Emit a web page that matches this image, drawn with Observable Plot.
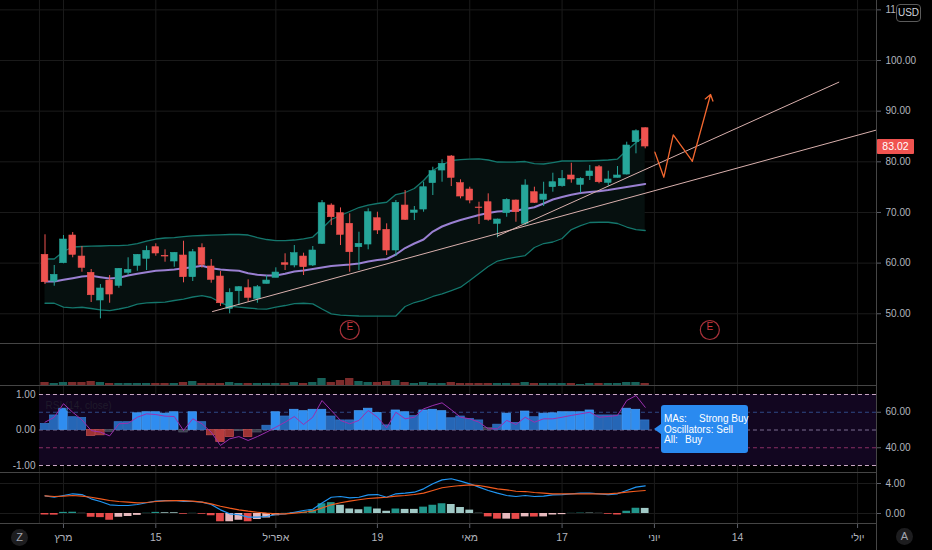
<!DOCTYPE html>
<html><head><meta charset="utf-8">
<script src="https://cdn.jsdelivr.net/npm/d3@7"></script>
<script src="https://cdn.jsdelivr.net/npm/@observablehq/plot@0.6"></script>
<style>
html,body{margin:0;padding:0;background:#000;}
#chart{position:relative;width:932px;height:550px;background:#000;overflow:hidden;font-family:"Liberation Sans",Arial,sans-serif;}
#chart svg{position:absolute;left:0;}
.btn{position:absolute;width:17px;height:17px;border-radius:50%;background:#1d1d1f;color:#a3a6af;font-size:11px;line-height:17px;text-align:center;}
</style></head><body><div id="chart"></div>
<script>
// ---------- data ----------
const open  = [61.64,56.36,59.98,65.45,61.30,58.09,52.62,56.56,55.52,58.09,59.47,60.85,63.14,61.40,60.32,61.50,57.22,62.95,59.33,57.35,50.98,54.45,55.04,52.95,55.90,57.10,59.98,59.53,61.30,59.53,63.81,71.37,69.85,67.76,63.14,63.67,68.86,66.57,62.49,71.37,69.93,70.58,75.78,78.28,81.05,75.78,74.53,70.98,72.02,67.76,69.85,72.36,67.76,74.00,72.50,74.99,75.18,77.30,75.46,77.16,78.93,75.85,76.84,77.49,83.87,86.63];
const high  = [65.59,59.53,65.45,66.04,63.28,58.74,55.77,57.55,58.93,61.05,61.70,63.34,63.81,62.63,62.10,64.32,62.69,63.81,60.71,58.34,54.93,55.38,56.70,55.58,57.55,59.07,61.84,63.47,61.96,63.28,72.36,71.71,70.90,69.73,66.10,70.72,70.05,67.76,72.36,74.33,71.18,75.97,78.93,80.40,81.24,76.45,74.99,72.02,73.68,68.70,72.70,72.46,76.45,74.99,75.97,77.75,78.28,79.72,76.84,79.27,79.27,78.15,79.07,83.87,86.32,86.71];
const low   = [55.78,55.44,59.86,61.05,58.20,52.22,49.00,52.08,55.04,57.55,58.40,58.54,61.36,60.18,59.19,56.11,56.37,59.00,56.03,51.43,49.99,51.63,52.28,52.08,55.87,57.10,58.54,59.07,57.55,59.33,63.67,67.42,63.47,58.20,58.54,62.63,65.65,61.50,61.30,68.41,68.41,70.05,73.35,75.97,75.12,72.69,71.71,67.62,68.27,65.00,69.06,68.07,67.42,71.77,71.18,74.00,74.99,75.78,73.80,76.31,75.66,75.18,76.80,77.40,81.58,82.57];
const close = [56.23,57.69,64.66,61.64,59.07,53.66,54.99,53.80,58.88,58.68,61.64,62.43,61.90,61.30,62.03,57.22,62.15,59.67,56.70,52.08,54.14,55.24,53.15,55.24,56.56,58.14,59.67,61.96,59.20,62.49,71.83,69.06,65.59,62.15,63.81,70.05,66.44,62.49,71.90,68.55,70.39,74.98,78.15,79.60,76.84,73.15,72.36,70.86,68.55,68.61,72.50,70.05,75.32,71.90,73.54,75.97,76.64,76.51,76.64,78.09,75.97,76.51,77.30,83.22,86.04,83.02];
const bbUpper = [60.81,60.81,62.29,63.18,63.28,63.34,63.38,63.44,63.47,63.57,63.87,64.36,64.76,64.96,65.05,65.25,65.39,65.45,65.51,65.59,65.65,65.65,65.55,65.05,64.66,64.46,64.46,64.56,64.80,65.15,66.83,68.61,69.40,70.19,70.98,71.47,71.77,72.02,73.54,73.94,74.73,76.31,78.28,79.37,80.26,80.45,80.55,80.59,80.36,79.96,79.92,79.96,80.06,79.66,79.57,79.86,80.16,80.16,80.16,80.20,80.26,80.36,80.55,82.23,83.81,85.00];
const bbLower = [52.08,52.08,51.33,51.17,51.29,51.04,50.78,50.64,50.94,51.29,51.92,52.16,52.22,52.28,52.62,52.91,53.31,53.60,53.21,52.22,51.53,51.33,51.14,50.98,50.90,51.29,51.63,52.02,52.08,51.96,50.94,49.99,49.75,49.65,49.56,49.52,49.52,49.52,49.56,51.43,52.22,52.71,53.41,53.94,54.59,55.24,56.56,57.95,59.33,60.41,60.85,61.20,61.50,63.08,63.87,64.17,64.86,66.63,67.42,68.02,68.07,68.07,67.82,67.13,66.63,66.44];
const basis = [56.37,56.37,56.70,57.02,57.35,57.49,57.22,56.96,57.10,57.55,57.89,58.20,58.48,58.60,58.74,58.99,59.19,59.47,58.99,58.74,58.60,58.48,58.01,57.69,57.55,57.55,57.89,58.34,58.54,58.83,59.13,59.43,59.59,59.72,59.92,60.32,60.61,60.81,61.70,62.98,63.87,64.66,66.24,67.23,67.92,68.51,69.00,69.50,69.89,70.19,70.29,70.38,70.68,71.04,71.77,72.56,73.05,73.48,73.84,74.04,74.20,74.43,74.73,75.02,75.32,75.62];
const volume = [3,2,3,3,3,4,3,2,2,2,2,2,2,2,2,3,4,2,2,2,3,2,2,2,2,2,2,3,2,3,7,3,5,7,4,3,3,4,5,3,2,3,2,2,3,2,2,2,2,2,2,2,3,2,2,2,2,2,1,2,2,2,2,3,3,2];
const rating = [0.17,0.41,0.6,0.36,0.34,-0.17,-0.15,-0.05,0.22,0.22,0.47,0.5,0.5,0.46,0.5,-0.07,0.5,0.22,-0.15,-0.34,-0.2,-0.03,-0.2,-0.07,0.12,0.5,0.38,0.57,0.53,0.57,0.57,0.38,0.27,0.27,0.53,0.6,0.48,0.13,0.55,0.5,0.39,0.55,0.57,0.53,0.33,0.38,0.31,0.27,0.06,0.15,0.46,0.2,0.52,0.36,0.46,0.47,0.5,0.5,0.5,0.55,0.41,0.41,0.41,0.6,0.57,0.27];
const rsi = [54.4,57.2,64.8,60.0,55.7,49.7,48.8,46.7,53.5,53.8,57.2,59.1,58.7,57.8,57.6,49.7,56.3,53.5,48.8,41.3,45.0,46.3,44.1,46.3,48.8,51.6,54.4,57.6,53.1,57.2,66.6,61.0,55.4,53.5,55.4,61.0,57.2,51.2,60.0,56.3,57.2,61.9,63.8,65.3,61.4,57.2,56.3,54.4,50.7,50.7,55.4,53.1,57.2,54.4,56.3,56.3,57.2,58.2,59.1,60.0,57.2,57.6,58.2,66.6,69.4,62.8];
const macd = [2.36,2.17,2.4,2.63,2.53,1.96,1.6,1.16,1.07,1.07,1.2,1.43,1.64,1.73,1.73,1.6,1.6,1.51,1.2,0.49,-0.04,-0.17,-0.49,-0.49,-0.4,-0.13,-0.04,0.17,0.4,0.57,1.4,2.17,2.27,2.09,2.17,2.49,2.53,2.17,2.63,2.71,2.84,3.29,3.96,4.49,4.63,4.31,3.96,3.51,3.07,2.71,2.4,2.27,2.4,2.27,2.31,2.49,2.53,2.63,2.71,2.71,2.63,2.53,2.63,3.07,3.51,3.69];
const signal = [2.36,2.27,2.31,2.4,2.31,2.17,1.96,1.73,1.6,1.51,1.43,1.47,1.6,1.69,1.73,1.73,1.64,1.51,1.29,0.97,0.71,0.49,0.31,0.17,0.04,-0.04,-0.04,0.04,0.17,0.33,0.73,1.16,1.43,1.64,1.83,2.0,2.09,2.17,2.31,2.4,2.53,2.71,3.07,3.43,3.6,3.73,3.83,3.73,3.51,3.29,3.16,2.97,2.93,2.8,2.71,2.63,2.63,2.63,2.63,2.63,2.63,2.63,2.71,2.84,2.97,3.07];
const hist = [-0.2,-0.22,0.15,0.17,0.02,-0.5,-0.55,-0.9,-0.5,-0.4,-0.25,0.03,0.15,0.1,0.1,-0.1,0.02,-0.1,-0.3,-1.1,-1.1,-0.9,-1.1,-0.8,-0.6,-0.3,0.02,0.1,0.2,0.45,1.3,1.45,1.1,0.6,0.5,0.85,0.6,0.3,0.6,0.55,0.55,0.85,1.1,1.3,1.2,0.8,0.45,0.03,-0.45,-0.75,-0.75,-0.78,-0.45,-0.47,-0.45,-0.2,-0.15,0.02,0.05,0.05,0.02,-0.1,-0.2,0.3,0.7,0.68];
const trendLines = [
  [{i:18.14,p:50.44},{i:90.05,p:86.28}],
  [{i:49.01,p:65.35},{i:85.97,p:95.72}]
];
const zigzag = [{i:66.05,p:81.9},{i:67.02,p:76.96},{i:68.04,p:85.33},{i:70.1,p:80.12},{i:72.08,p:93.29}];
const earnings = [33, 72];
const priceTicks = [50,60,70,80,90,100,110];
const ratingTicks = [-1,0,1];
const rsiTicks = [40,60];
const macdTicks = [0,4];
const timeIdx = [2,12,25,36,46,56,66,75,88];
const timeLabels = ["מרץ","15","אפריל","19","מאי","17","יוני","14","יולי"];
const gridIdx = [-0.6, ...timeIdx];
const rsiLevels = [{v:70,c:"#c9a6c4"},{v:60,c:"#2f4a86"},{v:50,c:"#7d6f92"},{v:40,c:"#8a2f63"},{v:30,c:"#c9a6c4"}];

// ---------- helpers ----------
const idx = d3.range(open.length);
const xDomain = [-4.82, 90.05];
const seriesStart = -0.6;
const FONT = '"Liberation Sans", Arial, sans-serif';
const GRID = "#1b1b1b";
const up = "#26a69a", dn = "#ef5350";
const candleColor = i => close[i] >= open[i] ? up : dn;
const chart = document.getElementById("chart");

function pane(top, height, yDomain, marks, opts = {}) {
  const svg = Plot.plot({
    width: 932, height, marginLeft: 0, marginRight: 56, marginTop: 0, marginBottom: 0,
    x: {domain: xDomain, axis: null},
    y: {domain: yDomain, axis: null},
    style: {background: "transparent", color: "#b2b5be", fontFamily: FONT, fontSize: "10px", overflow: "visible"},
    marks, ...opts
  });
  svg.style.top = top + "px";
  chart.appendChild(svg);
  return svg;
}
const rightAxis = (ticks) => Plot.axisY(ticks, {anchor: "right", tickSize: 4, tickPadding: 5, tickFormat: d => d.toFixed(2), stroke: "#5a5d66", fill: "#b2b5be", fontSize: 10});

// ---------- main price pane ----------
const main = pane(0, 343, [44.13, 111.85], [
  Plot.gridY(priceTicks, {stroke: GRID, strokeOpacity: 1}),
  Plot.gridX(gridIdx, {stroke: GRID, strokeOpacity: 1}),
  Plot.areaY(idx, {x: i => i, y1: i => bbLower[i], y2: i => bbUpper[i], fill: "#06100f"}),
  Plot.line(idx, {x: i => i, y: i => bbUpper[i], stroke: "#14766c", strokeWidth: 1.3}),
  Plot.line(idx, {x: i => i, y: i => bbLower[i], stroke: "#14766c", strokeWidth: 1.3}),
  Plot.line(idx, {x: i => i, y: i => basis[i], stroke: "#9a80d2", strokeWidth: 2}),
  Plot.ruleX(idx, {x: i => i, y1: i => low[i], y2: i => high[i], stroke: candleColor, strokeWidth: 1}),
  Plot.rect(idx, {x1: i => i - 0.36, x2: i => i + 0.36, y1: i => open[i], y2: i => close[i], fill: candleColor, stroke: candleColor, strokeWidth: 0.6}),
  ...trendLines.map(t => Plot.line(t, {x: "i", y: "p", stroke: "#d9b0ad", strokeWidth: 1, clip: true})),
  Plot.line(zigzag.slice(0, 4), {x: "i", y: "p", stroke: "#f2672f", strokeWidth: 1.3}),
  Plot.arrow([{a: zigzag[3], b: zigzag[4]}], {x1: d => d.a.i, y1: d => d.a.p, x2: d => d.b.i, y2: d => d.b.p, stroke: "#f2672f", strokeWidth: 1.3, headLength: 8, headAngle: 70}),
  Plot.dot(earnings, {x: d => d, frameAnchor: "bottom", dy: -13.5, r: 9.5, stroke: "#a8313a", strokeWidth: 1.2, fill: "none"}),
  Plot.text(earnings, {x: d => d, frameAnchor: "bottom", dy: -13.5, text: () => "E", fill: "#c8383f", fontSize: 10}),
  rightAxis(priceTicks)
]);

// last price label positioned with the price scale
const yMain = main.scale("y");
const last = close[close.length - 1];
const lp = document.createElement("div");
lp.textContent = last.toFixed(2);
Object.assign(lp.style, {position: "absolute", left: "877px", top: (yMain.apply(last) - 7.5) + "px", width: "37px", height: "15px",
  background: "#f05350", color: "#fff", fontSize: "10.5px", lineHeight: "15px", textAlign: "center", borderRadius: "1px"});
chart.appendChild(lp);

// ---------- volume pane ----------
pane(343, 42, [0, 42], [
  Plot.gridX(gridIdx, {stroke: GRID, strokeOpacity: 1}),
  Plot.rect(idx, {x1: i => i - 0.45, x2: i => i + 0.45, y1: 0, y2: i => volume[i], fill: i => close[i] >= open[i] ? "#17625a" : "#7d2c2c"})
]);

// ---------- ratings pane ----------
const ratingColor = r => r >= 0.45 ? "#2f8df0" : r >= 0.1 ? "#2566b6" : r > -0.1 ? "#3b3f4d" : r > -0.3 ? "#9e3434" : "#b83c3d";
const ratingStroke = r => r >= 0.45 ? "#4aa2f7" : r >= 0.1 ? "#3479cc" : r > -0.1 ? "#555a69" : "#c85050";
pane(385, 87, [-1.197, 1.2535], [
  Plot.gridX(gridIdx, {stroke: GRID, strokeOpacity: 1}),
  Plot.rect([[-1, 1]], {x1: seriesStart, x2: xDomain[1], y1: d => d[0], y2: d => d[1], fill: "#120620"}),
  Plot.ruleY(rsiLevels, {y: d => (d.v - 50) / 20, x1: seriesStart, x2: xDomain[1], stroke: d => d.c, strokeDasharray: "4,3", strokeWidth: 1}),
  Plot.rect(idx, {x1: i => i - 0.46, x2: i => i + 0.46, y1: 0, y2: i => rating[i], fill: i => ratingColor(rating[i]), stroke: i => ratingStroke(rating[i]), strokeWidth: 0.7}),
  Plot.text(ratingTicks, {y: d => d, text: d => d.toFixed(2), frameAnchor: "left", dx: 35, textAnchor: "end", fill: "#b2b5be", fontSize: 10}),
  Plot.text(["RSI (14, close)"], {frameAnchor: "top-left", dx: 45, dy: 16, text: d => d, fill: "#1f1b2b", fontSize: 10, textAnchor: "start"})
]);
// RSI overlay with its own scale
pane(385, 87, [26.06, 75.07], [
  Plot.line(idx, {x: i => i, y: i => rsi[i], stroke: "#9b2fae", strokeWidth: 1}),
  rightAxis(rsiTicks)
]);

// ---------- MACD pane ----------
const histColor = i => {
  const h = hist[i], p = i > 0 ? hist[i - 1] : 0;
  return h >= 0 ? (h > p ? "#26a69a" : "#b2dfdb") : (h < p ? "#ff5252" : "#ffcdd2");
};
pane(472, 51, [-1.333, 5.467], [
  Plot.gridY(macdTicks, {stroke: GRID, strokeOpacity: 1}),
  Plot.gridX(gridIdx, {stroke: GRID, strokeOpacity: 1}),
  Plot.rect(idx, {x1: i => i - 0.42, x2: i => i + 0.42, y1: 0, y2: i => hist[i], fill: histColor, fillOpacity: 0.9}),
  Plot.line(idx, {x: i => i, y: i => macd[i], stroke: "#2196f3", strokeWidth: 1.2}),
  Plot.line(idx, {x: i => i, y: i => signal[i], stroke: "#f25b1e", strokeWidth: 1.2}),
  rightAxis(macdTicks)
]);

// ---------- time axis ----------
{
  const svg = Plot.plot({
    width: 932, height: 27, marginLeft: 0, marginRight: 56, marginTop: 1, marginBottom: 26,
    x: {domain: xDomain, axis: null},
    style: {background: "transparent", color: "#b2b5be", fontFamily: FONT, fontSize: "10.5px", overflow: "visible"},
    marks: [
      Plot.gridX([seriesStart], {stroke: GRID, strokeOpacity: 1, y1: 0, y2: 27}),
      Plot.axisX(timeIdx, {anchor: "bottom", tickSize: 4, tickPadding: 5, tickFormat: d => timeLabels[timeIdx.indexOf(d)], stroke: "#5a5d66", fill: "#b2b5be", fontSize: 10.5})
    ]
  });
  svg.style.top = "523px";
  chart.appendChild(svg);
}

// ---------- chrome: separators, badges, tooltip ----------
function div(style, html = "") {
  const d = document.createElement("div");
  Object.assign(d.style, {position: "absolute"}, style);
  d.innerHTML = html;
  chart.appendChild(d);
  return d;
}
[343, 385, 472, 523].forEach(y => div({left: "0px", top: y + "px", width: "876px", height: "1px", background: "#454545"}));
div({left: "876px", top: "0px", width: "1px", height: "550px", background: "#454545"});
// backdrop that hides the tail of the clipped top price label, then the currency badge
div({left: "896px", top: "0px", width: "36px", height: "22px", background: "#000"});
div({left: "896px", top: "4px", width: "23px", height: "16px", border: "1px solid #5b5b5b", borderRadius: "4px", background: "#000",
  color: "#d1d4dc", fontSize: "10px", lineHeight: "16px", textAlign: "center"}, "USD");
const z = div({left: "11px", top: "529px"}, "Z"); z.className = "btn";
const a = div({left: "896px", top: "528px"}, "A"); a.className = "btn";
// tooltip
div({left: "654px", top: "424px", width: "0", height: "0", borderTop: "5px solid transparent", borderBottom: "5px solid transparent", borderRight: "7px solid #2a8af0"});
div({left: "661px", top: "405px", width: "87px", height: "48px", background: "#2a8af0", borderRadius: "3px", color: "#fff",
  fontSize: "10px", lineHeight: "10.6px", padding: "9px 0 0 3px", boxSizing: "border-box", whiteSpace: "nowrap"},
  '<div><span style="display:inline-block;width:35px">MAs:</span>Strong Buy</div><div>Oscillators: Sell</div><div><span style="display:inline-block;width:21px">All:</span>Buy</div>');
</script></body></html>
